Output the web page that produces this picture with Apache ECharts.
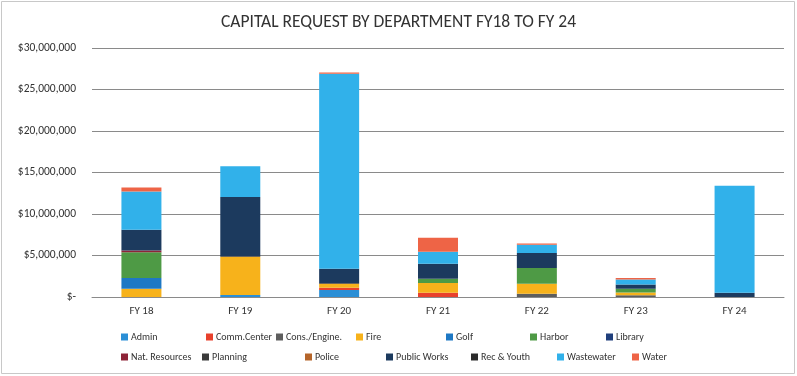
<!DOCTYPE html>
<html>
<head>
<meta charset="utf-8">
<script src="https://cdn.jsdelivr.net/npm/echarts@6/dist/echarts.min.js"></script>
<style>
  html, body { margin: 0; padding: 0; background: #ffffff; }
  #chart { width: 797px; height: 376px; }
</style>
</head>
<body>
<div id="chart"></div>
<script>
// Fiscal years on the category axis
const fiscalYears = ['FY 18', 'FY 19', 'FY 20', 'FY 21', 'FY 22', 'FY 23', 'FY 24'];

// Value-axis tick labels ($0 to $30M in $5M steps)
const yTickLabels = ['$-', '$5,000,000', '$10,000,000', '$15,000,000', '$20,000,000', '$25,000,000', '$30,000,000'];

// Capital request per department, in dollars, FY18..FY24
const admin         = [0, 250000, 850000, 0, 0, 0, 0];
const commCenter    = [0, 0, 250000, 500000, 0, 0, 0];
const consEngine    = [0, 0, 0, 0, 400000, 200000, 0];
const fire          = [1000000, 4600000, 500000, 1200000, 1200000, 350000, 0];
const golf          = [1300000, 0, 0, 0, 0, 0, 0];
const harbor        = [3100000, 0, 0, 500000, 1900000, 450000, 0];
const library       = [0, 0, 0, 0, 0, 0, 0];
const natResources  = [200000, 0, 0, 0, 0, 0, 0];
const planning      = [0, 100000, 100000, 0, 0, 0, 0];
const police        = [0, 0, 0, 0, 0, 0, 0];
const publicWorks   = [2500000, 7100000, 1700000, 1800000, 1800000, 500000, 500000];
const recYouth      = [0, 0, 0, 0, 0, 0, 0];
const wastewater    = [4600000, 3700000, 23500000, 1450000, 1000000, 600000, 12900000];
const water         = [500000, 0, 150000, 1700000, 150000, 200000, 0];

const departments = [
  { name: 'Admin',          values: admin,        color: '#2B8FD6' },
  { name: 'Comm.Center',    values: commCenter,   color: '#E8412C' },
  { name: 'Cons./Engine.',  values: consEngine,   color: '#5E5E5E' },
  { name: 'Fire',           values: fire,         color: '#F7B21B' },
  { name: 'Golf',           values: golf,         color: '#1E78C4' },
  { name: 'Harbor',         values: harbor,       color: '#4E9A45' },
  { name: 'Library',        values: library,      color: '#203F7C' },
  { name: 'Nat. Resources', values: natResources, color: '#8E2438' },
  { name: 'Planning',       values: planning,     color: '#3A3A3A' },
  { name: 'Police',         values: police,       color: '#B5652A' },
  { name: 'Public Works',   values: publicWorks,  color: '#1C3A5E' },
  { name: 'Rec & Youth',    values: recYouth,     color: '#2B2B2B' },
  { name: 'Wastewater',     values: wastewater,   color: '#31B1EA' },
  { name: 'Water',          values: water,        color: '#EE6446' }
];

// Legend slot positions: two rows of seven entries
const legendRowTop = [332, 352];
const legendColLeft = [
  [121, 206, 276, 356, 446, 530, 606],
  [121, 202, 305, 386, 471, 557, 632]
];

const FONT = 'Carlito, Lato, sans-serif';

const legends = departments.map((d, i) => {
  const row = Math.floor(i / 7), col = i % 7;
  return {
    data: [d.name],
    left: legendColLeft[row][col],
    top: legendRowTop[row],
    padding: 0,
    icon: 'rect',
    itemWidth: 7,
    itemHeight: 7,
    itemGap: 4,
    selectedMode: false,
    textStyle: { fontFamily: FONT, fontSize: 10, color: '#333', padding: [0, 0, 0, -2] }
  };
});

const chart = echarts.init(document.getElementById('chart'), null, { renderer: 'canvas' });
chart.setOption({
  animation: false,
  backgroundColor: '#ffffff',
  title: {
    text: 'CAPITAL REQUEST BY DEPARTMENT FY18 TO FY 24',
    left: 'center',
    top: 9,
    textStyle: { fontFamily: FONT, fontSize: 17.5, fontWeight: 'normal', color: '#333' }
  },
  legend: legends,
  grid: { left: 92, right: 13, top: 48, bottom: 79, containLabel: false },
  xAxis: {
    type: 'category',
    data: fiscalYears,
    axisTick: { show: false },
    axisLine: { show: true, lineStyle: { color: '#8a8a8a', width: 1 } },
    axisLabel: { fontFamily: FONT, fontSize: 11, color: '#333', margin: 9 }
  },
  yAxis: {
    type: 'value',
    min: 0,
    max: 30000000,
    interval: 5000000,
    axisLine: { show: false },
    axisTick: { show: false },
    splitLine: { lineStyle: { color: '#8a8a8a', width: 1 } },
    axisLabel: {
      fontFamily: FONT, fontSize: 11.5, color: '#333', margin: 16,
      formatter: v => yTickLabels[Math.round(v / 5000000)]
    }
  },
  series: departments.map(d => ({
    name: d.name,
    type: 'bar',
    stack: 'total',
    barWidth: 40,
    itemStyle: { color: d.color },
    data: d.values
  })),
  graphic: [{
    type: 'rect',
    shape: { x: 1.5, y: 1.5, width: 793, height: 372 },
    style: { fill: 'none', stroke: '#c8c8c8', lineWidth: 1 },
    silent: true
  }]
});
</script>
</body>
</html>
